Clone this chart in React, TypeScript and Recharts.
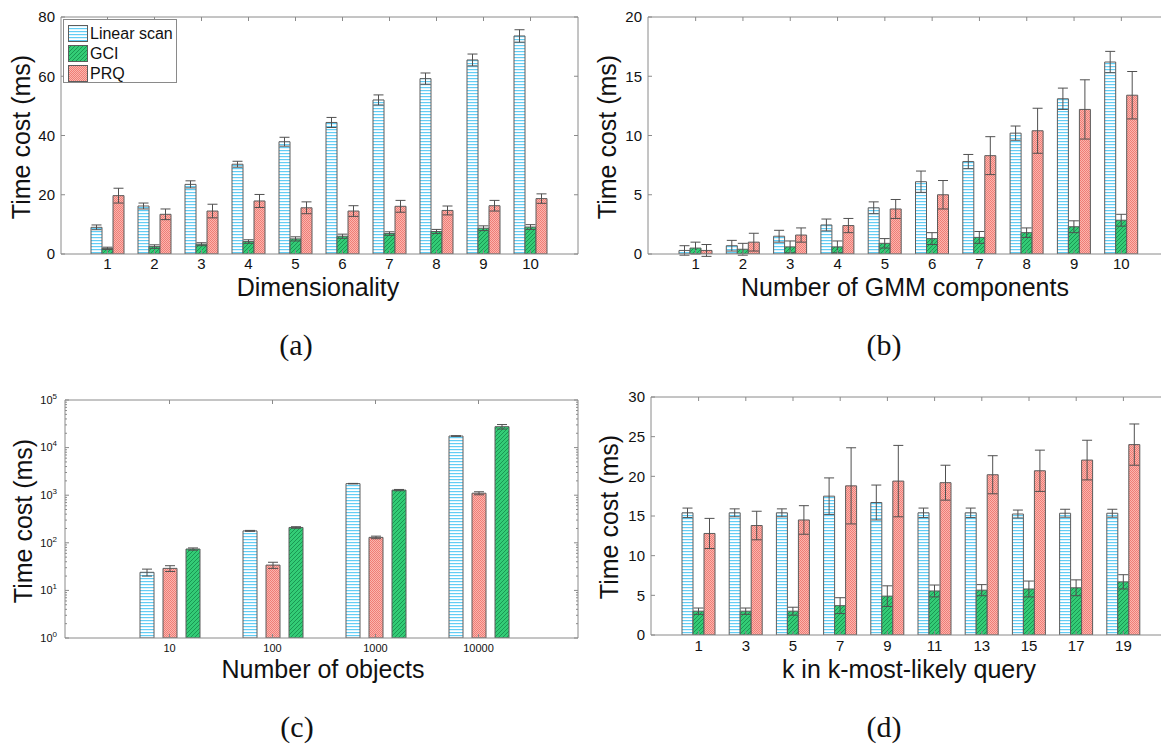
import React from 'react';
import { BarChart, Bar, XAxis, YAxis, ErrorBar, Legend } from 'recharts';

const SERIES = ['Linear scan', 'GCI', 'PRQ'];

// (a) dimensionality
const dimCats = ['1', '2', '3', '4', '5', '6', '7', '8', '9', '10'];
const dimLinear = [9.0, 16.2, 23.5, 30.3, 37.9, 44.4, 52.0, 59.2, 65.5, 73.6];
const dimLinearErr = [0.8, 1.0, 1.2, 1.0, 1.5, 1.7, 1.7, 1.9, 2.0, 2.1];
const dimGci = [1.9, 2.5, 3.3, 4.2, 5.1, 6.0, 6.9, 7.6, 8.7, 9.1];
const dimGciErr = [0.4, 0.6, 0.5, 0.6, 0.7, 0.7, 0.6, 0.7, 0.8, 0.8];
const dimPrq = [19.7, 13.4, 14.5, 17.9, 15.6, 14.5, 16.1, 14.7, 16.3, 18.7];
const dimPrqErr = [2.5, 1.8, 2.3, 2.2, 2.0, 1.8, 2.0, 1.5, 1.8, 1.6];
const dimTicks = [0, 20, 40, 60, 80];

// (b) GMM components
const gmmCats = ['1', '2', '3', '4', '5', '6', '7', '8', '9', '10'];
const gmmLinear = [0.3, 0.7, 1.5, 2.45, 3.9, 6.1, 7.8, 10.2, 13.1, 16.2];
const gmmLinearErr = [0.4, 0.45, 0.5, 0.5, 0.5, 0.9, 0.6, 0.6, 0.9, 0.9];
const gmmGci = [0.5, 0.4, 0.6, 0.6, 0.9, 1.3, 1.4, 1.8, 2.3, 2.85];
const gmmGciErr = [0.5, 0.5, 0.5, 0.5, 0.4, 0.5, 0.5, 0.4, 0.5, 0.5];
const gmmPrq = [0.3, 1.0, 1.6, 2.4, 3.8, 5.0, 8.3, 10.4, 12.2, 13.4];
const gmmPrqErr = [0.5, 0.75, 0.6, 0.6, 0.8, 1.2, 1.6, 1.9, 2.5, 2.0];
const gmmTicks = [0, 5, 10, 15, 20];

// (c) number of objects (log scale)
const objCats = ['10', '100', '1000', '10000'];
const objLinear = [24, 178, 1750, 17500];
const objLinearErr = [4, 4, 20, 300];
const objPrq = [29, 34, 130, 1100];
const objPrqErr = [4, 5, 8, 80];
const objGci = [74, 210, 1280, 27500];
const objGciErr = [4, 8, 40, 3000];
const logDecades = [1, 10, 100, 1000, 10000, 100000];
const logMinor = [2, 3, 4, 5, 6, 7, 8, 9];

// (d) k in k-most-likely query
const kCats = ['1', '3', '5', '7', '9', '11', '13', '15', '17', '19'];
const kLinear = [15.4, 15.4, 15.4, 17.5, 16.7, 15.4, 15.4, 15.25, 15.35, 15.35];
const kLinearErr = [0.6, 0.5, 0.5, 2.3, 2.2, 0.6, 0.6, 0.5, 0.5, 0.5];
const kGci = [3.0, 3.0, 3.0, 3.7, 4.9, 5.55, 5.65, 5.8, 5.95, 6.7];
const kGciErr = [0.4, 0.4, 0.5, 1.0, 1.3, 0.75, 0.7, 1.0, 1.0, 0.9];
const kPrq = [12.8, 13.8, 14.5, 18.8, 19.4, 19.2, 20.2, 20.7, 22.05, 24.0];
const kPrqErr = [1.9, 1.8, 1.8, 4.8, 4.5, 2.2, 2.4, 2.6, 2.5, 2.6];
const kTicks = [0, 5, 10, 15, 20, 25, 30];

const AXIS = '#8a8a8a';
const EDGE = '#5c5c5c';
const SANS = '"Liberation Sans", Arial, sans-serif';
const SERIF = '"Liberation Serif", "Times New Roman", serif';

function buildRows(cats: string[], lin: number[], linErr: number[], gci: number[], gciErr: number[], prq: number[], prqErr: number[]) {
  return cats.map((cat, i) => ({
    cat,
    lin: lin[i], linErr: linErr[i],
    gci: gci[i], gciErr: gciErr[i],
    prq: prq[i], prqErr: prqErr[i],
  }));
}

const dimRows = buildRows(dimCats, dimLinear, dimLinearErr, dimGci, dimGciErr, dimPrq, dimPrqErr);
const gmmRows = buildRows(gmmCats, gmmLinear, gmmLinearErr, gmmGci, gmmGciErr, gmmPrq, gmmPrqErr);
const objRows = buildRows(objCats, objLinear, objLinearErr, objGci, objGciErr, objPrq, objPrqErr);
const kRows = buildRows(kCats, kLinear, kLinearErr, kGci, kGciErr, kPrq, kPrqErr);

const logTicks = logDecades.flatMap((d, i) =>
  i < logDecades.length - 1 ? [d, ...logMinor.map((m) => m * d)] : [d]
);

// tick renderers: ticks point inward like the matlab box
function bottomTick(fontSize: number, dy: number) {
  return (p: any) => (
    <g>
      <line x1={p.x} x2={p.x} y1={p.y} y2={p.y - 4} stroke={AXIS} />
      <text x={p.x} y={p.y + dy} textAnchor="middle" fontSize={fontSize} fontFamily={SANS} fill="#111">
        {p.payload.value}
      </text>
    </g>
  );
}
const topTick = (p: any) => <line x1={p.x} x2={p.x} y1={p.y} y2={p.y + 4} stroke={AXIS} />;
function leftTick(fontSize: number) {
  return (p: any) => (
    <g>
      <line x1={p.x} x2={p.x + 4} y1={p.y} y2={p.y} stroke={AXIS} />
      <text x={p.x - 6} y={p.y} dy="0.35em" textAnchor="end" fontSize={fontSize} fontFamily={SANS} fill="#111">
        {p.payload.value}
      </text>
    </g>
  );
}
const rightTick = (p: any) => <line x1={p.x} x2={p.x - 4} y1={p.y} y2={p.y} stroke={AXIS} />;

const isDecade = (v: number) => Math.abs(Math.log10(v) - Math.round(Math.log10(v))) < 1e-9;
const logLeftTick = (p: any) => {
  const v = p.payload.value;
  const dec = isDecade(v);
  return (
    <g>
      <line x1={p.x} x2={p.x + (dec ? 4 : 2)} y1={p.y} y2={p.y} stroke={AXIS} />
      {dec && (
        <text x={p.x - 8} y={p.y} dy="0.35em" textAnchor="end" fontSize={11} fontFamily={SANS} fill="#111">
          10<tspan dy={-5} fontSize={8}>{Math.round(Math.log10(v))}</tspan>
        </text>
      )}
    </g>
  );
};
const logRightTick = (p: any) => {
  const dec = isDecade(p.payload.value);
  return <line x1={p.x} x2={p.x - (dec ? 4 : 2)} y1={p.y} y2={p.y} stroke={AXIS} />;
};

const FILLS: Record<string, string> = {
  'Linear scan': 'url(#patLin)',
  GCI: 'url(#patGci)',
  PRQ: 'url(#patPrq)',
};

const renderLegend = () => (
  <div
    style={{
      boxSizing: 'border-box', border: `1px solid ${AXIS}`, background: '#fff',
      padding: '3px 0 2px 4px', width: 114, height: 64,
      fontFamily: SANS, fontSize: 16, whiteSpace: 'nowrap', lineHeight: '17px',
    }}
  >
    {SERIES.map((s) => (
      <div key={s} style={{ display: 'flex', alignItems: 'center', height: 20 }}>
        <svg width={21} height={17} style={{ marginRight: 1, flex: 'none' }}>
          <rect x={0.5} y={0.5} width={19} height={16} fill={FILLS[s]} stroke={EDGE} />
        </svg>
        <span style={{ color: '#111' }}>{s}</span>
      </div>
    ))}
  </div>
);

interface PanelProps {
  rows: any[];
  width: number;
  height: number;
  plot: { left: number; right: number; top: number; bottom: number };
  pad: { left: number; right: number };
  yDomain: number[];
  yTicks: number[];
  log?: boolean;
  order: string[];
  barSize: number;
  barGap: number;
  tickFont: number;
  tickDy: number;
  legend?: boolean;
}

const SERIES_KEY: Record<string, string> = { 'Linear scan': 'lin', GCI: 'gci', PRQ: 'prq' };

function Panel({ rows, width, height, plot, pad, yDomain, yTicks, log, order, barSize, barGap, tickFont, tickDy, legend }: PanelProps) {
  return (
    <BarChart
      width={width}
      height={height}
      data={rows}
      margin={{ top: 0, right: 0, bottom: 0, left: 0 }}
      barSize={barSize}
      barGap={barGap}
    >
      <XAxis
        dataKey="cat"
        height={height - plot.bottom}
        padding={pad}
        stroke={AXIS}
        tickSize={0}
        tickMargin={0}
        interval={0}
        tick={bottomTick(tickFont, tickDy)}
      />
      <XAxis
        xAxisId="top"
        orientation="top"
        dataKey="cat"
        height={plot.top}
        padding={pad}
        stroke={AXIS}
        tickSize={0}
        tickMargin={0}
        interval={0}
        tick={topTick}
      />
      <YAxis
        type="number"
        scale={log ? 'log' : 'auto'}
        domain={yDomain}
        ticks={yTicks}
        width={plot.left}
        stroke={AXIS}
        tickSize={0}
        tickMargin={0}
        interval={0}
        allowDataOverflow
        tick={log ? logLeftTick : leftTick(tickFont)}
      />
      <YAxis
        yAxisId="right"
        orientation="right"
        type="number"
        scale={log ? 'log' : 'auto'}
        domain={yDomain}
        ticks={yTicks}
        width={width - plot.right}
        stroke={AXIS}
        tickSize={0}
        tickMargin={0}
        interval={0}
        allowDataOverflow
        tick={log ? logRightTick : rightTick}
      />
      {order.map((s) => (
        <Bar
          key={s}
          name={s}
          dataKey={SERIES_KEY[s]}
          fill={FILLS[s]}
          stroke={EDGE}
          strokeWidth={1}
          isAnimationActive={false}
        >
          <ErrorBar dataKey={SERIES_KEY[s] + 'Err'} width={5} stroke="#505050" strokeWidth={1} direction="y" />
        </Bar>
      ))}
      {legend && (
        <Legend
          layout="vertical"
          align="center"
          verticalAlign="middle"
          content={renderLegend}
          wrapperStyle={{ left: 63, top: 19, width: 114, height: 64 }}
        />
      )}
    </BarChart>
  );
}

const abs = (left: number, top: number): React.CSSProperties => ({ position: 'absolute', left, top });

export default function App() {
  return (
    <div style={{ position: 'fixed', left: 0, top: 0, width: 1161, height: 744, overflow: 'hidden', background: '#fff' }}>
      <svg width={0} height={0} style={{ position: 'absolute' }}>
        <defs>
          <pattern id="patLin" patternUnits="userSpaceOnUse" width={6} height={3}>
            <rect width={6} height={3} fill="#ffffff" />
            <rect width={6} height={1.2} fill="#62cdf5" />
          </pattern>
          <pattern id="patGci" patternUnits="userSpaceOnUse" width={4} height={4}>
            <rect width={4} height={4} fill="#33cc76" />
            <path d="M-1,1 L1,-1 M0,4 L4,0 M3,5 L5,3" stroke="#17914f" strokeWidth={0.9} />
          </pattern>
          <pattern id="patPrq" patternUnits="userSpaceOnUse" width={2} height={2}>
            <rect width={2} height={2} fill="#fbb5ae" />
            <rect width={1} height={1} fill="#ef7d76" />
            <rect x={1} y={1} width={1} height={1} fill="#ef7d76" />
          </pattern>
        </defs>
      </svg>

      <div style={abs(0, 0)}>
        <Panel
          rows={dimRows} width={600} height={300}
          plot={{ left: 61, right: 578, top: 17, bottom: 254 }}
          pad={{ left: 23, right: 24 }}
          yDomain={[0, 80]} yTicks={dimTicks}
          order={SERIES} barSize={11} barGap={0}
          tickFont={15} tickDy={15} legend
        />
      </div>
      <div style={abs(590, 0)}>
        <Panel
          rows={gmmRows} width={600} height={300}
          plot={{ left: 58, right: 579, top: 17, bottom: 254 }}
          pad={{ left: 24, right: 24 }}
          yDomain={[0, 20]} yTicks={gmmTicks}
          order={SERIES} barSize={11} barGap={0}
          tickFont={15} tickDy={15}
        />
      </div>
      <div style={abs(0, 380)}>
        <Panel
          rows={objRows} width={600} height={300}
          plot={{ left: 65, right: 578, top: 20, bottom: 258 }}
          pad={{ left: 53, right: 48 }}
          yDomain={[1, 100000]} yTicks={logTicks} log
          order={['Linear scan', 'PRQ', 'GCI']} barSize={14} barGap={9}
          tickFont={11} tickDy={14}
        />
      </div>
      <div style={abs(590, 380)}>
        <Panel
          rows={kRows} width={600} height={300}
          plot={{ left: 61, right: 581, top: 17, bottom: 255 }}
          pad={{ left: 24, right: 24 }}
          yDomain={[0, 30]} yTicks={kTicks}
          order={SERIES} barSize={11} barGap={0}
          tickFont={15} tickDy={16}
        />
      </div>

      <svg width={1161} height={744} style={{ position: 'absolute', left: 0, top: 0, pointerEvents: 'none' }}>
        <g fontFamily={SANS} fontSize={25} fill="#111" textAnchor="middle">
          <text transform="translate(30,137) rotate(-90)">Time cost (ms)</text>
          <text transform="translate(616,137) rotate(-90)">Time cost (ms)</text>
          <text transform="translate(32,521) rotate(-90)">Time cost (ms)</text>
          <text transform="translate(618,517) rotate(-90)">Time cost (ms)</text>
          <text x={318} y={296}>Dimensionality</text>
          <text x={905} y={296}>Number of GMM components</text>
          <text x={323} y={678}>Number of objects</text>
          <text x={909} y={678}>k in k-most-likely query</text>
        </g>
        <g fontFamily={SERIF} fontSize={30} fill="#111" textAnchor="middle">
          <text x={296} y={355}>(a)</text>
          <text x={884} y={355}>(b)</text>
          <text x={297} y={737}>(c)</text>
          <text x={884} y={737}>(d)</text>
        </g>
      </svg>
    </div>
  );
}
